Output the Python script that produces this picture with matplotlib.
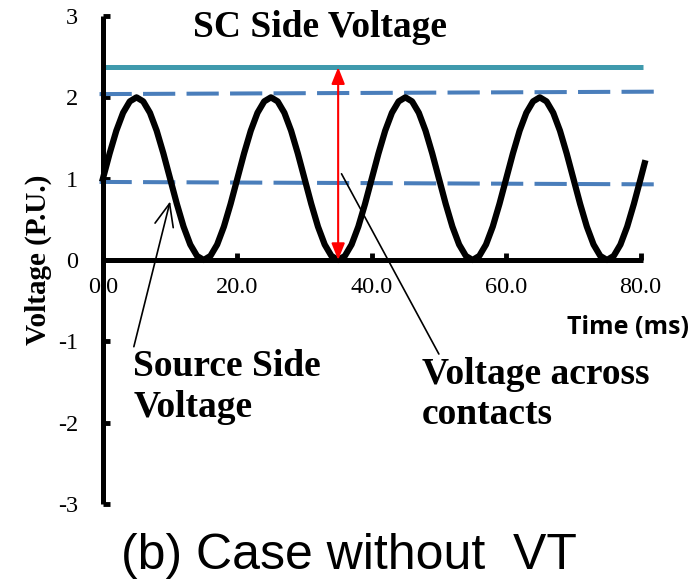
import matplotlib
matplotlib.use('Agg')
import matplotlib.pyplot as plt

plt.rcParams['axes.unicode_minus'] = False

# source side voltage (P.U.), one point per ms
time_ms = list(range(0, 81)) + [80.6]
source_v = [1.00, 1.31, 1.59, 1.81, 1.95, 2.00, 1.95, 1.81, 1.59, 1.31,
            1.00, 0.69, 0.41, 0.19, 0.05, 0.00, 0.05, 0.19, 0.41, 0.69,
            1.00, 1.31, 1.59, 1.81, 1.95, 2.00, 1.95, 1.81, 1.59, 1.31,
            1.00, 0.69, 0.41, 0.19, 0.05, 0.00, 0.05, 0.19, 0.41, 0.69,
            1.00, 1.31, 1.59, 1.81, 1.95, 2.00, 1.95, 1.81, 1.59, 1.31,
            1.00, 0.69, 0.41, 0.19, 0.05, 0.00, 0.05, 0.19, 0.41, 0.69,
            1.00, 1.31, 1.59, 1.81, 1.95, 2.00, 1.95, 1.81, 1.59, 1.31,
            1.00, 0.69, 0.41, 0.19, 0.05, 0.00, 0.05, 0.19, 0.41, 0.69,
            1.00, 1.19]

# SC side voltage (solid) and the two dashed envelope lines
sc_t = [-0.3, 80.4]
sc_v = [2.37, 2.37]
upper_t = [-0.5, 82.9]
upper_v = [2.04, 2.07]
lower_t = [-0.5, 82.9]
lower_v = [0.96, 0.93]

# voltage across contacts marker
gap_t = 35.0
gap_v = [0.0, 2.37]

xticks = [0, 20, 40, 60, 80]
xtick_labels = ['0.0', '20.0', '40.0', '60.0', '80.0']
yticks = [-3, -2, -1, 0, 1, 2, 3]

fig = plt.figure(figsize=(7, 5.82), dpi=100)
ax = fig.add_axes([0.147, 0.134, 0.772, 0.8385])

serif = 'Liberation Serif'

ax.plot(sc_t, sc_v, color='#3f9aad', lw=3.6, clip_on=False, solid_capstyle='butt')
ax.plot(upper_t, upper_v, color='#4a7ebb', lw=2.9, dashes=(8, 2.8), clip_on=False)
ax.plot(lower_t, lower_v, color='#4a7ebb', lw=2.9, dashes=(8, 2.8), clip_on=False)
ax.plot(time_ms, source_v, color='black', lw=4.5, clip_on=False,
        solid_joinstyle='round', zorder=3)

ax.annotate('', xy=(gap_t, gap_v[0]), xytext=(gap_t, gap_v[1]),
            arrowprops=dict(arrowstyle='<|-|>,head_length=1.0,head_width=0.4',
                            color='red', lw=1.5, shrinkA=0, shrinkB=0), zorder=4)

ax.set_xlim(0, 80.4)
ax.set_ylim(-3, 3)
ax.spines['left'].set_position(('data', 0))
ax.spines['bottom'].set_position(('data', 0))
ax.spines['right'].set_visible(False)
ax.spines['top'].set_visible(False)
for s in ['left', 'bottom']:
    ax.spines[s].set_linewidth(3.6)
    ax.spines[s].set_capstyle('butt')

ax.set_xticks(xticks)
ax.set_xticklabels(xtick_labels)
ax.set_yticks(yticks)
ax.tick_params(axis='both', direction='in', length=5, width=3.5,
               labelsize=17.5, pad=12)
ax.tick_params(axis='y', pad=18)
for lab in ax.get_xticklabels() + ax.get_yticklabels():
    lab.set_fontfamily(serif)

ax.text(32.3, 2.86, 'SC Side Voltage', fontsize=27, fontweight='bold',
        family=serif, ha='center', va='center')

ax.annotate('Source Side\nVoltage', xy=(10.0, 0.72), xytext=(4.5, -1.1),
            fontsize=27, fontweight='bold', family=serif, ha='left', va='top',
            linespacing=1.2,
            arrowprops=dict(arrowstyle='->,head_length=0.6,head_width=0.25',
                            color='black', lw=1.2, shrinkA=0, shrinkB=0,
                            relpos=(0, 1)))

ax.annotate('Voltage across\ncontacts', xy=(35.5, 1.06), xytext=(47.5, -1.19),
            fontsize=27, fontweight='bold', family=serif, ha='left', va='top',
            linespacing=1.2,
            arrowprops=dict(arrowstyle='-', color='black', lw=1.2,
                            shrinkA=0, shrinkB=0, relpos=(0.08, 1)))

fig.text(628 / 700, 1 - 327 / 582, 'Time (ms)', fontsize=18, fontweight='bold',
         family='Open Sans', ha='center', va='center')
fig.text(38 / 700, 1 - 260 / 582, 'Voltage (P.U.)', fontsize=21, fontweight='bold',
         family=serif, ha='center', va='center', rotation=90)
fig.text(349 / 700, 1 - 556 / 582, '(b) Case without  VT', fontsize=36,
         family='Liberation Sans', ha='center', va='center')

fig.savefig('out.png', dpi=100)
